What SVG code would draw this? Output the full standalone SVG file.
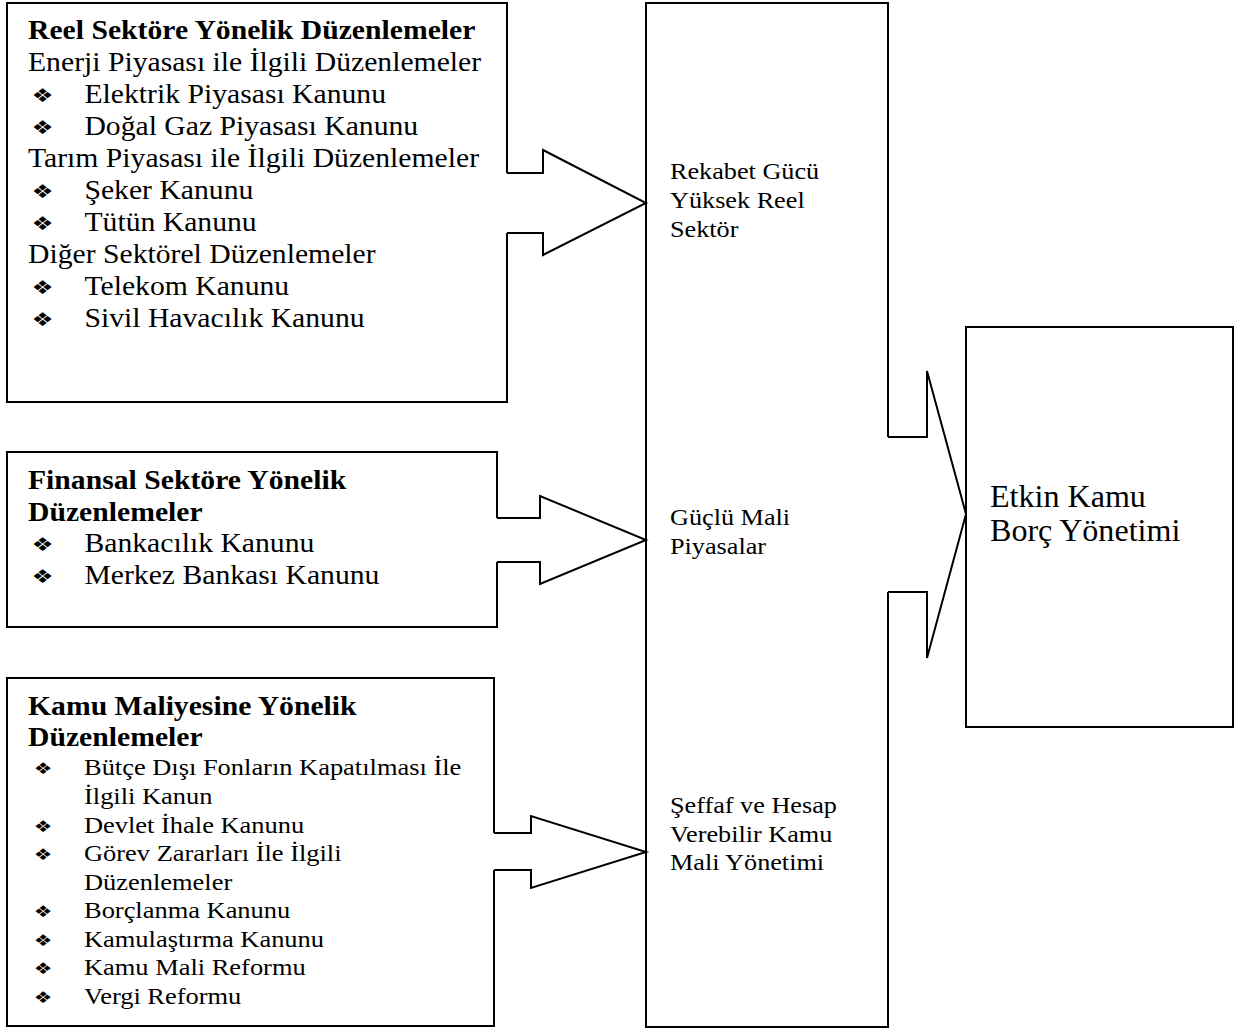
<svg xmlns="http://www.w3.org/2000/svg" width="1236" height="1030" viewBox="0 0 1236 1030">
<style>
  .box { fill: none; stroke: #000; stroke-width: 2; }
  .arr { fill: none; stroke: #000; stroke-width: 2; stroke-linejoin: miter; }
  .t { font-family: "Liberation Serif", "Times New Roman", serif; font-size: 26.5px; fill: #000; }
  .b { font-weight: bold; }
  .s { font-family: "Liberation Serif", "Times New Roman", serif; font-size: 23px; fill: #000; }
  .c { font-family: "Liberation Serif", "Times New Roman", serif; font-size: 23px; fill: #000; }
  .e { font-family: "Liberation Serif", "Times New Roman", serif; font-size: 31px; fill: #000; }
  .bul { font-family: "DejaVu Sans", sans-serif; font-size: 19px; fill: #000; text-anchor: middle; }
  .bs { font-family: "DejaVu Sans", sans-serif; font-size: 16px; fill: #000; text-anchor: middle; }
</style>
<rect width="1236" height="1030" fill="#fff"/>

<g id="reel-sektor">
  <path class="box" d="M507,173 V3 H7 V402 H507 V233"/>
  <g transform="translate(28,0) scale(1.12,1)">
    <text class="t b" x="0" y="39">Reel Sektöre Yönelik Düzenlemeler</text>
    <text class="t" x="0" y="71">Enerji Piyasası ile İlgili Düzenlemeler</text>
    <text class="t" x="50.4" y="103">Elektrik Piyasası Kanunu</text>
    <text class="t" x="50.4" y="135">Doğal Gaz Piyasası Kanunu</text>
    <text class="t" x="0" y="167">Tarım Piyasası ile İlgili Düzenlemeler</text>
    <text class="t" x="50.4" y="199">Şeker Kanunu</text>
    <text class="t" x="50.4" y="231">Tütün Kanunu</text>
    <text class="t" x="0" y="263">Diğer Sektörel Düzenlemeler</text>
    <text class="t" x="50.4" y="295">Telekom Kanunu</text>
    <text class="t" x="50.4" y="327">Sivil Havacılık Kanunu</text>
  </g>
  <g transform="translate(42.5,0) scale(1.3,1)">
    <text class="bul" x="0" y="102">❖</text>
    <text class="bul" x="0" y="134">❖</text>
    <text class="bul" x="0" y="198">❖</text>
    <text class="bul" x="0" y="230">❖</text>
    <text class="bul" x="0" y="294">❖</text>
    <text class="bul" x="0" y="326">❖</text>
  </g>
</g>

<g id="finansal-sektor">
  <path class="box" d="M497,518 V452 H7 V627 H497 V562"/>
  <g transform="translate(28,0) scale(1.12,1)">
    <text class="t b" x="0" y="489">Finansal Sektöre Yönelik</text>
    <text class="t b" x="0" y="521">Düzenlemeler</text>
    <text class="t" x="50.4" y="552">Bankacılık Kanunu</text>
    <text class="t" x="50.4" y="584">Merkez Bankası Kanunu</text>
  </g>
  <g transform="translate(42.5,0) scale(1.3,1)">
    <text class="bul" x="0" y="551">❖</text>
    <text class="bul" x="0" y="583">❖</text>
  </g>
</g>

<g id="kamu-maliyesi">
  <path class="box" d="M494,833 V678 H7 V1026 H494 V870"/>
  <g transform="translate(28,0) scale(1.12,1)">
    <text class="t b" x="0" y="715">Kamu Maliyesine Yönelik</text>
    <text class="t b" x="0" y="746">Düzenlemeler</text>
  </g>
  <g transform="translate(84,0) scale(1.15,1)">
    <text class="s" x="0" y="775">Bütçe Dışı Fonların Kapatılması İle</text>
    <text class="s" x="0" y="804">İlgili Kanun</text>
    <text class="s" x="0" y="833">Devlet İhale Kanunu</text>
    <text class="s" x="0" y="861">Görev Zararları İle İlgili</text>
    <text class="s" x="0" y="890">Düzenlemeler</text>
    <text class="s" x="0" y="918">Borçlanma Kanunu</text>
    <text class="s" x="0" y="947">Kamulaştırma Kanunu</text>
    <text class="s" x="0" y="975">Kamu Mali Reformu</text>
    <text class="s" x="0" y="1004">Vergi Reformu</text>
  </g>
  <g transform="translate(43,0) scale(1.3,1)">
    <text class="bs" x="0" y="774">❖</text>
    <text class="bs" x="0" y="832">❖</text>
    <text class="bs" x="0" y="860">❖</text>
    <text class="bs" x="0" y="917">❖</text>
    <text class="bs" x="0" y="946">❖</text>
    <text class="bs" x="0" y="974">❖</text>
    <text class="bs" x="0" y="1003">❖</text>
  </g>
</g>

<g id="hedefler">
  <path class="box" d="M888,437 V3 H646 V1027 H888 V592"/>
  <g transform="translate(670,0) scale(1.14,1)">
    <text class="c" x="0" y="179">Rekabet Gücü</text>
    <text class="c" x="0" y="208">Yüksek Reel</text>
    <text class="c" x="0" y="237">Sektör</text>
    <text class="c" x="0" y="525">Güçlü Mali</text>
    <text class="c" x="0" y="554">Piyasalar</text>
    <text class="c" x="0" y="813">Şeffaf ve Hesap</text>
    <text class="c" x="0" y="842">Verebilir Kamu</text>
    <text class="c" x="0" y="870">Mali Yönetimi</text>
  </g>
</g>

<g id="etkin-kamu-borc">
  <rect class="box" x="966" y="327" width="267" height="400"/>
  <g transform="translate(990,0) scale(1.035,1)">
    <text class="e" x="0" y="507">Etkin Kamu</text>
    <text class="e" x="0" y="541">Borç Yönetimi</text>
  </g>
</g>

<g id="connectors">
  <polyline class="arr" points="507,173 543,173 543,150 646,203 543,255 543,233 507,233"/>
  <polyline class="arr" points="497,518 540,518 540,496 646,540 540,584 540,562 497,562"/>
  <polyline class="arr" points="494,833 531,833 531,816 646,852 531,888 531,870 494,870"/>
  <polyline class="arr" points="888,437 927,437 927,371 966,514 927,658 927,592 888,592"/>
</g>
</svg>
